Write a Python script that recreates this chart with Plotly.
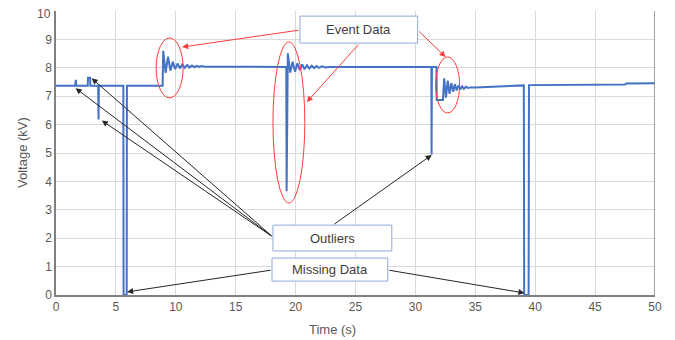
import plotly.graph_objects as go

# ---- data ----
time_s = [0, 1.6, 1.65, 1.7, 2.65, 2.67, 2.85, 2.87, 3.52, 3.55, 3.58,
          5.62, 5.64, 5.9, 5.92,
          8.9, 8.95, 9.15, 9.35, 9.55, 9.75, 9.95, 10.15, 10.35, 10.55, 10.75,
          10.95, 11.15, 11.35, 11.55, 11.75, 11.95, 12.15, 12.4, 12.7, 13.0,
          19.22, 19.25, 19.35, 19.55, 19.75, 19.95, 20.15, 20.35, 20.55, 20.75,
          20.95, 21.15, 21.35, 21.55, 21.75, 21.95, 22.2, 22.5, 22.8, 23.2,
          31.33, 31.35, 31.38, 31.76, 31.78, 32.3, 32.4, 32.55, 32.7, 32.85,
          33.0, 33.15, 33.3, 33.45, 33.6, 33.75, 33.9, 34.05, 34.2, 34.4, 34.6,
          35.0, 37.0, 39.05, 39.08, 39.45, 39.48,
          47.5, 47.6, 50.0]
voltage_kv = [7.37, 7.37, 7.58, 7.37, 7.37, 7.65, 7.65, 7.37, 7.37, 6.18, 7.37,
              7.37, 0, 0, 7.37,
              7.37, 8.6, 7.82, 8.39, 7.9, 8.21, 7.95, 8.15, 7.98, 8.12, 8.0,
              8.1, 8.01, 8.08, 8.02, 8.07, 8.03, 8.06, 8.04, 8.05, 8.04,
              8.03, 3.65, 8.51, 7.83, 8.21, 7.86, 8.16, 7.92, 8.12, 7.95,
              8.09, 7.97, 8.07, 7.99, 8.06, 8.0, 8.05, 8.01, 8.03, 8.03,
              8.03, 4.95, 8.03, 8.03, 6.87, 6.87, 7.63, 6.95, 7.55, 7.08,
              7.46, 7.16, 7.42, 7.2, 7.38, 7.24, 7.35, 7.26, 7.33, 7.29, 7.31,
              7.31, 7.35, 7.38, 0, 0, 7.39,
              7.41, 7.45, 7.46]

x_ticks = [0, 5, 10, 15, 20, 25, 30, 35, 40, 45, 50]
y_ticks = [0, 1, 2, 3, 4, 5, 6, 7, 8, 9, 10]

fig = go.Figure()
fig.add_trace(go.Scatter(x=time_s, y=voltage_kv, mode="lines",
                         line=dict(color="#4472C4", width=2),
                         showlegend=False, hoverinfo="skip"))

FONT = "Liberation Sans"
TXT = "#595959"

# ellipses
for x0, x1, y0, y1 in [(8.36, 10.61, 6.94, 9.05),
                       (18.11, 20.77, 3.24, 8.91),
                       (31.69, 33.69, 6.41, 8.38)]:
    fig.add_shape(type="circle", xref="x", yref="y", x0=x0, x1=x1, y0=y0, y1=y1,
                  line=dict(color="#FF3B3B", width=1))

# boxes
for x0, x1, y0, y1 in [(20.36, 30.19, 8.87, 9.82),
                       (18.11, 28.03, 1.55, 2.46),
                       (18.03, 27.69, 0.49, 1.30)]:
    fig.add_shape(type="rect", xref="x", yref="y", x0=x0, x1=x1, y0=y0, y1=y1,
                  line=dict(color="#8EA9DB", width=1), fillcolor="white", layer="above")

# right border
fig.add_shape(type="line", xref="x", yref="y", x0=50, x1=50, y0=0, y1=10,
              line=dict(color="#808080", width=1.5))

ann = []
for x, y, t in [(25.27, 9.35, "Event Data"), (23.07, 2.0, "Outliers"),
                (22.86, 0.9, "Missing Data")]:
    ann.append(dict(x=x, y=y, xref="x", yref="y", text=t, showarrow=False,
                    font=dict(family=FONT, size=13, color="#404040")))

for (ax, ay), (x, y) in [((20.36, 9.33), (10.53, 8.73)),
                         ((25.36, 8.87), (20.94, 6.80)),
                         ((30.19, 9.33), (32.52, 8.38))]:
    ann.append(dict(x=x, y=y, ax=ax, ay=ay, xref="x", yref="y", axref="x", ayref="y",
                    text="", showarrow=True, arrowhead=2, arrowsize=1.2,
                    arrowwidth=1, arrowcolor="#FF3B3B", standoff=0))
for (ax, ay), (x, y) in [((18.11, 2.04), (1.64, 7.28)),
                         ((18.11, 2.04), (2.98, 7.63)),
                         ((18.11, 2.04), (3.83, 6.14)),
                         ((23.11, 2.46), (31.36, 4.93)),
                         ((18.03, 0.88), (5.94, 0.11)),
                         ((27.69, 0.88), (39.1, 0.07))]:
    ann.append(dict(x=x, y=y, ax=ax, ay=ay, xref="x", yref="y", axref="x", ayref="y",
                    text="", showarrow=True, arrowhead=2, arrowsize=1.2,
                    arrowwidth=1, arrowcolor="#262626", standoff=0))

# axis titles as positioned text
ann.append(dict(x=23.1, y=-0.123, xref="x", yref="paper", text="Time (s)",
                showarrow=False, yanchor="middle",
                font=dict(family=FONT, size=13, color=TXT)))
ann.append(dict(x=0, y=0.5, xref="paper", yref="paper", text="Voltage (kV)",
                showarrow=False, textangle=-90, xanchor="center", yanchor="middle",
                xshift=-34, font=dict(family=FONT, size=13, color=TXT)))

# top tick label drawn a few px lower so it is not clipped at the page edge
top_tick = y_ticks[-1]
ann.append(dict(x=0, y=top_tick, xref="paper", yref="y", text=str(top_tick),
                showarrow=False, xanchor="right", yanchor="middle",
                xshift=-3, yshift=-3,
                font=dict(family=FONT, size=12, color=TXT)))
tick_text = [str(v) for v in y_ticks[:-1]] + [""]

# page body adds an 8px offset; figure sized to fit the window
fig.update_layout(
    template="none",
    width=667, height=332,
    margin=dict(l=48, r=20, t=3, b=45, pad=0),
    paper_bgcolor="white", plot_bgcolor="white",
    annotations=ann,
    font=dict(family=FONT, size=12, color=TXT),
)
fig.update_xaxes(range=[0, 50], tickvals=x_ticks, ticktext=[str(v) for v in x_ticks],
                 automargin=False, ticklabeloverflow="allow",
                 showgrid=True, gridcolor="#D9D9D9", gridwidth=1,
                 showline=True, linecolor="#808080", linewidth=1.5,
                 ticks="", zeroline=False,
                 tickfont=dict(family=FONT, size=12, color=TXT))
fig.update_yaxes(range=[0, 10], tickvals=y_ticks, ticktext=tick_text,
                 automargin=False, ticklabeloverflow="allow",
                 showgrid=True, gridcolor="#D9D9D9", gridwidth=1,
                 showline=True, linecolor="#808080", linewidth=1.5,
                 ticks="", zeroline=False,
                 tickfont=dict(family=FONT, size=12, color=TXT))

fig.write_html("out.html")
